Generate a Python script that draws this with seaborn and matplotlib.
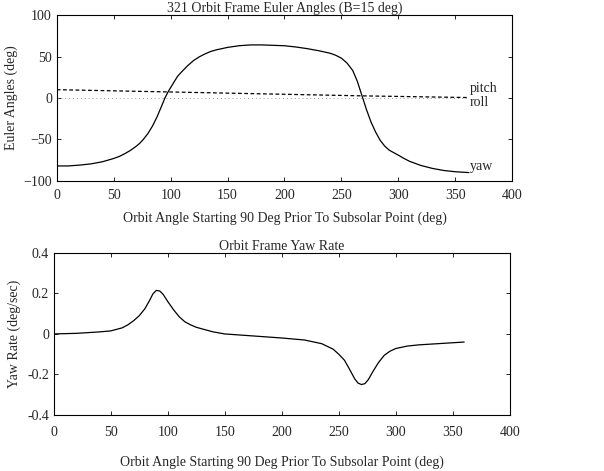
import numpy as np
import pandas as pd
import matplotlib
matplotlib.use("Agg")
import matplotlib.pyplot as plt
import seaborn as sns

# Euler angles (deg) vs orbit angle (deg)
yaw_x = [0, 10, 20, 30, 40, 50, 55, 60, 65, 70, 73, 76, 80, 84, 88, 92, 95, 98, 102, 106,
         110, 115, 120, 125, 130, 135, 140, 150, 160, 170, 180, 190, 200, 210, 220, 230,
         240, 245, 250, 255, 260, 264, 268, 272, 276, 280, 284, 288, 292, 296, 300, 305,
         310, 320, 330, 340, 350, 362]
yaw = [-82, -82, -81, -79.5, -77, -73, -70.5, -67, -63, -58, -54.5, -50, -43, -34, -23, -10,
       0, 8, 17, 26, 32, 39, 45, 49.5, 53, 56, 58, 61, 63, 64, 64, 63.5, 63, 61.5, 59.5, 57,
       54, 51.5, 48, 42, 33, 20, 3, -14, -29, -41, -51, -58, -63, -66, -69, -73,
       -76.5, -81.5, -85, -87.5, -89, -90]
pitch_x = [0, 90, 180, 270, 362]
pitch = [10, 7.5, 5, 2.5, 0.5]
roll_x = [0, 362]
roll = [0, 0]

# Yaw rate (deg/sec)
rate_x = [0, 20, 40, 50, 60, 65, 70, 75, 80, 84, 87, 90, 93, 96, 100, 105, 110, 115, 120,
          125, 130, 140, 150, 175, 200, 220, 235, 245, 250, 255, 260, 264, 267, 270, 273,
          276, 280, 285, 290, 295, 300, 310, 320, 340, 360]
rate = [0.0, 0.003, 0.01, 0.015, 0.03, 0.045, 0.065, 0.09, 0.125, 0.165, 0.198, 0.215,
        0.212, 0.195, 0.16, 0.12, 0.085, 0.06, 0.045, 0.033, 0.025, 0.01, 0.0, -0.01, -0.02,
        -0.03, -0.048, -0.075, -0.1, -0.13, -0.18, -0.222, -0.243, -0.25, -0.245, -0.225,
        -0.185, -0.14, -0.105, -0.085, -0.072, -0.06, -0.054, -0.047, -0.04]

sns.set_style("ticks")
plt.rcParams["font.family"] = ["Liberation Serif", "DejaVu Serif"]
plt.rcParams["xtick.direction"] = "in"
plt.rcParams["ytick.direction"] = "in"
plt.rcParams["xtick.top"] = True
plt.rcParams["ytick.right"] = True
plt.rcParams["xtick.major.size"] = 3
plt.rcParams["ytick.major.size"] = 3

fig = plt.figure(figsize=(6.04, 4.71), dpi=100)
ax1 = fig.add_axes([0.094, 0.616, 0.754, 0.352])
ax2 = fig.add_axes([0.089, 0.119, 0.755, 0.344])

fs = 10
xlab = "Orbit Angle Starting 90 Deg Prior To Subsolar Point (deg)"

sns.lineplot(x=yaw_x, y=yaw, ax=ax1, color="black", lw=0.9)
sns.lineplot(x=pitch_x, y=pitch, ax=ax1, color="black", lw=0.9, linestyle=(0, (3, 2)))
sns.lineplot(x=roll_x, y=roll, ax=ax1, color="#999999", lw=0.7, linestyle=(0, (1, 3)))
ax1.set_xlim(0, 400)
ax1.set_ylim(-100, 100)
ax1.set_xticks(range(0, 401, 50))
ax1.set_yticks([-100, -50, 0, 50, 100])
ax1.set_title("321 Orbit Frame Euler Angles (B=15 deg)", fontsize=fs, pad=2)
ax1.set_xlabel(xlab, fontsize=fs, labelpad=7)
ax1.set_ylabel("Euler Angles (deg)", fontsize=fs)
ax1.tick_params(axis="x", pad=5.5)
ax1.text(363, 12, "pitch", fontsize=fs, va="center")
ax1.text(363, -5.5, "roll", fontsize=fs, va="center")
ax1.text(363, -83, "yaw", fontsize=fs, va="center")

sns.lineplot(x=rate_x, y=rate, ax=ax2, color="black", lw=0.9)
ax2.set_xlim(0, 400)
ax2.set_ylim(-0.4, 0.4)
ax2.set_xticks(range(0, 401, 50))
ax2.set_yticks([-0.4, -0.2, 0, 0.2, 0.4])
ax2.set_yticklabels(["-0.4", "-0.2", "0", "0.2", "0.4"])
ax2.set_title("Orbit Frame Yaw Rate", fontsize=fs, pad=2)
ax2.set_xlabel(xlab, fontsize=fs, labelpad=12)
ax2.set_ylabel("Yaw Rate (deg/sec)", fontsize=fs)
ax2.tick_params(axis="x", pad=8)

for ax in (ax1, ax2):
    ax.tick_params(labelsize=fs, width=0.7)
    for s in ax.spines.values():
        s.set_linewidth(0.8)
        s.set_color("black")

fig.savefig("out.png", dpi=100, facecolor="white")
